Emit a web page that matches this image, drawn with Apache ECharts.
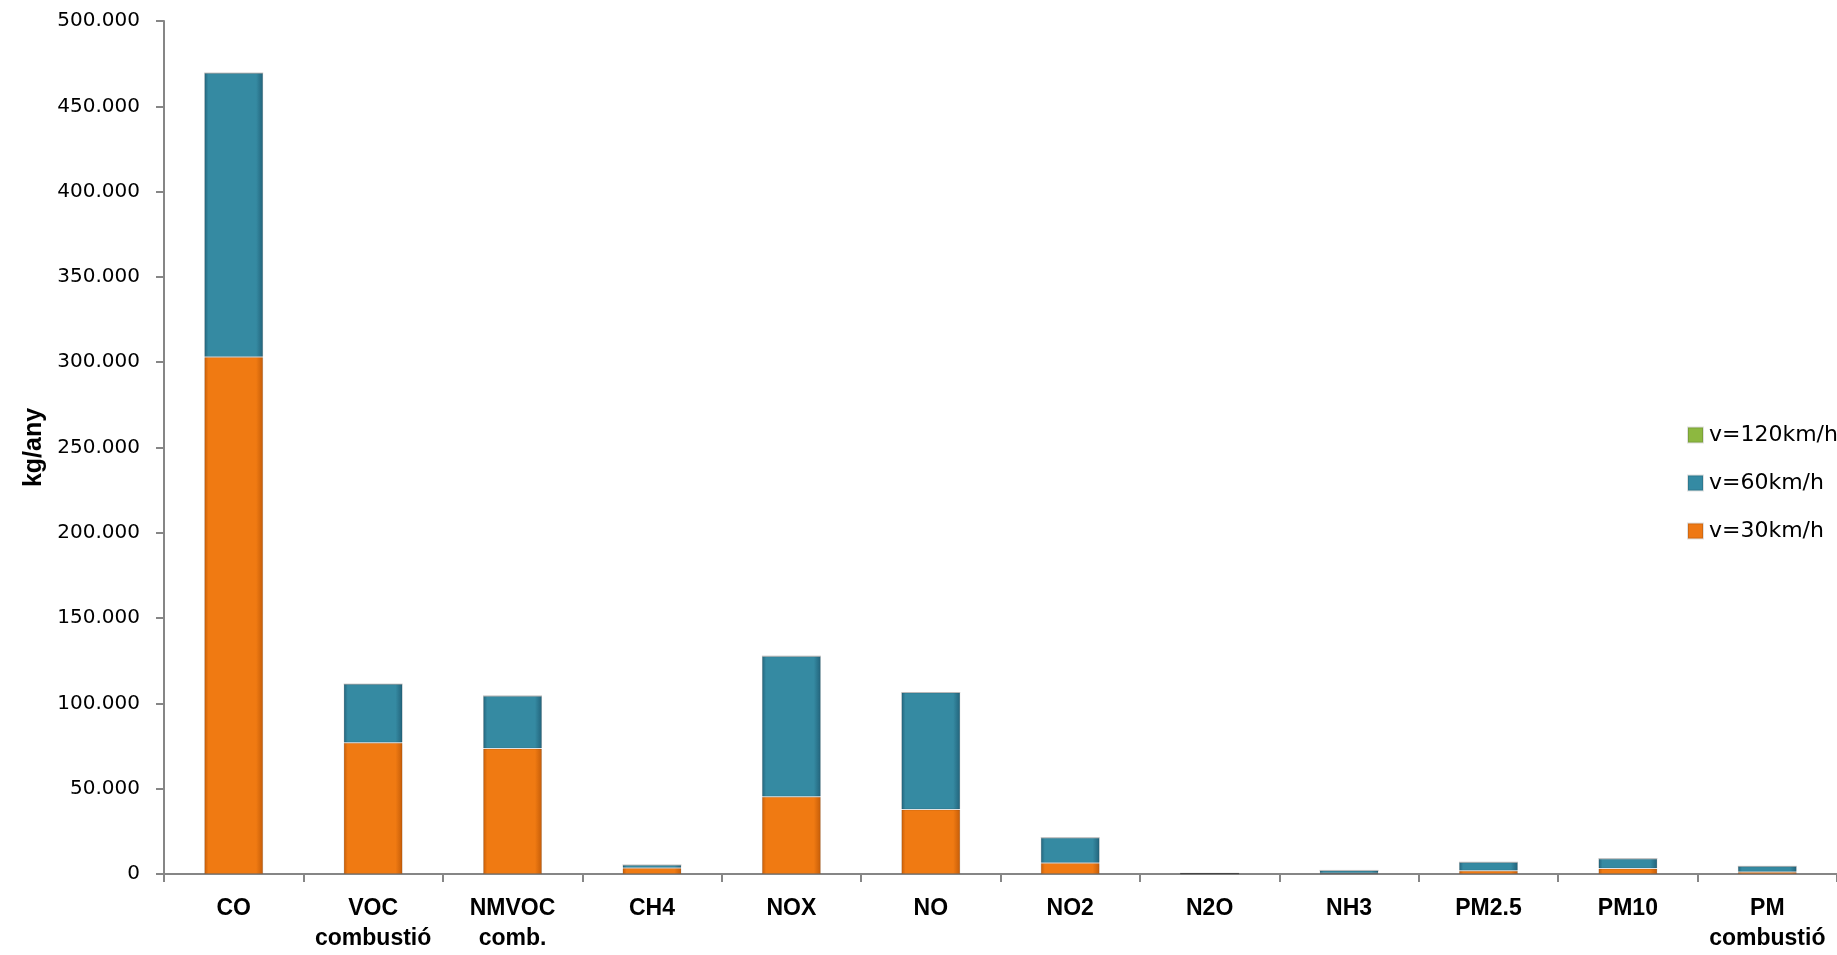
<!DOCTYPE html>
<html>
<head>
<meta charset="utf-8">
<script src="https://cdn.jsdelivr.net/npm/echarts@6/dist/echarts.min.js"></script>
<style>
  html, body { margin: 0; padding: 0; background: #ffffff; }
  #chart { width: 1837px; height: 955px; }
</style>
</head>
<body>
<div id="chart"></div>
<script>
// Annual emissions per pollutant (kg/any) by vehicle speed
const categories = ['CO', 'VOC\ncombustió', 'NMVOC\ncomb.', 'CH4', 'NOX', 'NO', 'NO2', 'N2O', 'NH3', 'PM2.5', 'PM10', 'PM\ncombustió'];
const v30 = [303000, 77000, 73500, 3500, 45300, 37800, 6500, 200, 500, 1900, 3200, 1200];
const v60 = [166500, 34300, 30900, 1800, 82400, 68600, 14800, 200, 1600, 5000, 5800, 3300];
const v120 = [0, 0, 0, 0, 0, 0, 0, 0, 0, 0, 0, 0];
const seriesNames = ['v=30km/h', 'v=60km/h', 'v=120km/h'];
const legendOrder = ['v=120km/h', 'v=60km/h', 'v=30km/h'];
const yTicks = { min: 0, max: 500000, step: 50000 };

// Horizontal shading that darkens the bar edges, giving a bevelled look
function bevel(dark, mid) {
  return {
    type: 'linear', x: 0, y: 0, x2: 1, y2: 0,
    colorStops: [
      { offset: 0, color: dark },
      { offset: 0.07, color: mid },
      { offset: 0.88, color: mid },
      { offset: 1, color: dark }
    ]
  };
}

const palette = {
  'v=30km/h': { fill: bevel('#c45c08', '#f07a12'), icon: '#ee7814' },
  'v=60km/h': { fill: bevel('#22627a', '#358aa2'), icon: '#348aa3' },
  'v=120km/h': { fill: bevel('#6c8f2c', '#8db840'), icon: '#8db840' }
};

function fmtThousands(v) {
  if (v === 0) return '0';
  return String(Math.round(v)).replace(/\B(?=(\d{3})+(?!\d))/g, '.');
}

const values = { 'v=30km/h': v30, 'v=60km/h': v60, 'v=120km/h': v120 };

const chart = echarts.init(document.getElementById('chart'), null, { renderer: 'canvas' });

chart.setOption({
  animation: false,
  backgroundColor: '#ffffff',
  grid: { left: 164, right: 0, top: 21, bottom: 81, containLabel: false },
  legend: {
    orient: 'vertical',
    left: 1682,
    top: 419,
    itemWidth: 15,
    itemHeight: 15,
    itemGap: 26,
    data: legendOrder.map(n => ({ name: n, icon: 'rect', itemStyle: { color: palette[n].icon } })),
    textStyle: { fontFamily: 'DejaVu Sans', fontSize: 22, color: '#000000', padding: [0, 0, 0, 1] }
  },
  xAxis: {
    type: 'category',
    data: categories,
    axisLine: { lineStyle: { color: '#868686', width: 2 } },
    axisTick: { show: true, length: 8, lineStyle: { color: '#868686', width: 2 } },
    axisLabel: {
      interval: 0,
      margin: 20,
      fontFamily: 'Liberation Sans, sans-serif',
      fontWeight: 'bold',
      fontSize: 23,
      lineHeight: 30,
      color: '#000000'
    }
  },
  yAxis: {
    type: 'value',
    min: yTicks.min,
    max: yTicks.max,
    interval: yTicks.step,
    name: 'kg/any',
    nameLocation: 'middle',
    nameRotate: 90,
    nameGap: 110,
    nameTextStyle: {
      fontFamily: 'Liberation Sans, sans-serif',
      fontWeight: 'bold',
      fontSize: 25,
      color: '#000000'
    },
    splitLine: { show: false },
    axisLine: { show: true, lineStyle: { color: '#868686', width: 2 } },
    axisTick: { show: true, length: 8, lineStyle: { color: '#868686', width: 2 } },
    axisLabel: {
      margin: 24,
      formatter: fmtThousands,
      fontFamily: 'DejaVu Sans',
      fontSize: 20,
      color: '#000000'
    }
  },
  series: seriesNames.map(n => ({
    name: n,
    type: 'bar',
    stack: 'total',
    barWidth: 59,
    data: values[n],
    itemStyle: { color: palette[n].fill, borderColor: 'rgba(0,0,0,0.12)', borderWidth: 1 },
    emphasis: { disabled: true }
  }))
});
</script>
</body>
</html>
